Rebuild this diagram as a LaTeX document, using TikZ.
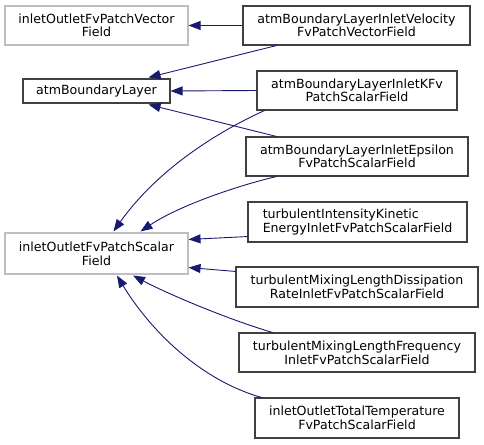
\documentclass[tikz,border=0pt]{standalone}
\usepackage{fontspec}
\setmainfont{DejaVu Sans}
\usetikzlibrary{arrows.meta,calc}
\definecolor{edgeblue}{HTML}{191970}
\definecolor{graybd}{HTML}{BFBFBF}
\definecolor{darkbd}{HTML}{404040}
\begin{document}
\begin{tikzpicture}[x=1pt,y=-1pt,
  cls/.style={draw=darkbd,line width=1.1pt,rectangle,inner sep=0pt,align=center,
    font=\fontsize{12.6}{13.6}\selectfont},
  ext/.style={cls,draw=graybd},
  edge/.style={draw=edgeblue,line width=0.9pt,-{Triangle[length=12pt,width=9pt]}}]
\useasboundingbox (0,0) rectangle (484,444);
\node[ext,minimum width=183pt,minimum height=39pt] (iovec) at (96.5,25.5) {inletOutletFvPatchVector\\Field};
\node[cls,minimum width=227pt,minimum height=39pt] (vel) at (356.5,25.5) {atmBoundaryLayerInletVelocity\\FvPatchVectorField};
\node[cls,minimum width=147pt,minimum height=24pt] (abl) at (96.5,91) {atmBoundaryLayer};
\node[cls,minimum width=200pt,minimum height=39pt] (kfv) at (357,90.5) {atmBoundaryLayerInletKFv\\PatchScalarField};
\node[cls,minimum width=222pt,minimum height=39pt] (eps) at (357,156.5) {atmBoundaryLayerInletEpsilon\\FvPatchScalarField};
\node[cls,align=left,minimum width=219pt,minimum height=40pt] (tike) at (357.5,222) {turbulentIntensityKinetic\\EnergyInletFvPatchScalarField};
\node[ext,minimum width=183pt,minimum height=41pt] (ioscal) at (96.5,253.5) {inletOutletFvPatchScalar\\Field};
\node[cls,minimum width=242pt,minimum height=40pt] (tmld) at (357,287) {turbulentMixingLengthDissipation\\RateInletFvPatchScalarField};
\node[cls,minimum width=236pt,minimum height=39pt] (tmlf) at (357,352.5) {turbulentMixingLengthFrequency\\InletFvPatchScalarField};
\node[cls,minimum width=204pt,minimum height=40pt] (iott) at (357,418) {inletOutletTotalTemperature\\FvPatchScalarField};

\draw[edge] (vel.west) -- (iovec.east);
\draw[edge] ($(vel.south west)+(34,0)$) -- ($(abl.north)+(52,-1)$);
\draw[edge] (kfv.west) -- (abl.east);
\draw[edge] ($(eps.north west)+(31,0)$) -- ($(abl.south)+(52,1)$);
\draw[edge] ($(kfv.south west)+(8,0)$) .. controls (200,140) and (150,180) .. ($(ioscal.north)+(17,-1)$);
\draw[edge] ($(eps.south west)+(31,0)$) .. controls (240,185) and (180,205) .. ($(ioscal.north)+(44,-1)$);
\draw[edge] ($(tike.south west)+(0,-6)$) -- ($(ioscal.north east)+(0,7)$);
\draw[edge] ($(tmld.north west)+(0,5)$) -- ($(ioscal.south east)+(0,-7)$);
\draw[edge] ($(tmlf.north west)+(34,0)$) .. controls (230,320) and (170,295) .. ($(ioscal.south)+(36.5,1)$);
\draw[edge] ($(iott.north west)+(7,0)$) .. controls (200,380) and (150,330) .. ($(ioscal.south)+(20.5,1)$);
\end{tikzpicture}
\end{document}
